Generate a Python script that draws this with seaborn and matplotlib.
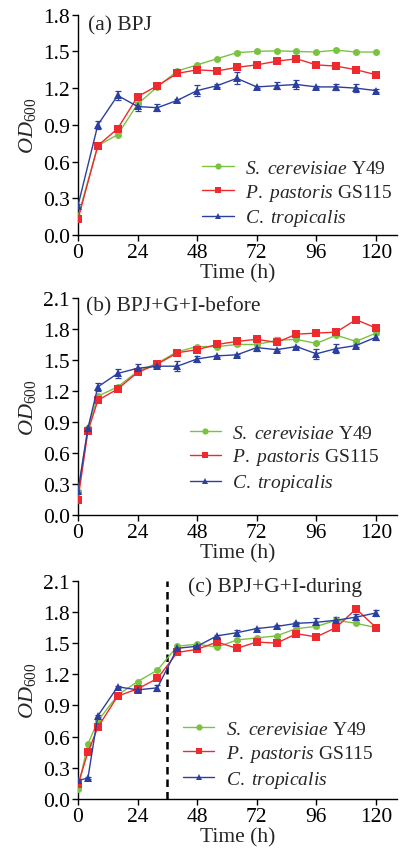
import numpy as np
import pandas as pd
import seaborn as sns
import matplotlib
matplotlib.use("Agg")
import matplotlib.pyplot as plt

# ---- data ----
time_a = [0, 8, 16, 24, 32, 40, 48, 56, 64, 72, 80, 88, 96, 104, 112, 120]
sc_a = [0.15, 0.73, 0.82, 1.07, 1.21, 1.34, 1.39, 1.44, 1.49, 1.50, 1.505, 1.50, 1.495, 1.51, 1.495, 1.495]
pp_a = [0.13, 0.73, 0.87, 1.13, 1.22, 1.32, 1.35, 1.34, 1.37, 1.39, 1.42, 1.44, 1.39, 1.38, 1.35, 1.31]
ct_a = [0.24, 0.90, 1.14, 1.05, 1.04, 1.10, 1.18, 1.22, 1.28, 1.21, 1.22, 1.23, 1.21, 1.21, 1.20, 1.18]
sc_a_err = [0.01, 0.01, 0.01, 0.01, 0.01, 0.01, 0.01, 0.01, 0.01, 0.01, 0.01, 0.01, 0.01, 0.01, 0.01, 0.01]
pp_a_err = [0.01, 0.01, 0.01, 0.01, 0.01, 0.01, 0.01, 0.01, 0.01, 0.01, 0.01, 0.02, 0.01, 0.01, 0.01, 0.01]
ct_a_err = [0.01, 0.03, 0.04, 0.04, 0.03, 0.01, 0.045, 0.01, 0.05, 0.01, 0.03, 0.04, 0.01, 0.025, 0.035, 0.01]

time_b = [0, 4, 8, 16, 24, 32, 40, 48, 56, 64, 72, 80, 88, 96, 104, 112, 120]
sc_b = [0.22, 0.84, 1.15, 1.24, 1.39, 1.47, 1.58, 1.63, 1.63, 1.65, 1.65, 1.69, 1.70, 1.66, 1.74, 1.68, 1.76]
pp_b = [0.15, 0.81, 1.11, 1.22, 1.38, 1.46, 1.57, 1.60, 1.65, 1.68, 1.70, 1.67, 1.75, 1.76, 1.77, 1.89, 1.81]
ct_b = [0.23, 0.84, 1.24, 1.37, 1.42, 1.44, 1.44, 1.51, 1.54, 1.55, 1.62, 1.60, 1.63, 1.56, 1.61, 1.64, 1.72]
sc_b_err = [0.01] * 11 + [0.03, 0.01, 0.01, 0.01, 0.01, 0.01]
pp_b_err = [0.01] * 17
ct_b_err = [0.01, 0.01, 0.04, 0.04, 0.04, 0.01, 0.05, 0.03, 0.01, 0.01, 0.03, 0.01, 0.01, 0.05, 0.04, 0.01, 0.03]

time_c = [0, 4, 8, 16, 24, 32, 40, 48, 56, 64, 72, 80, 88, 96, 104, 112, 120]
sc_c = [0.10, 0.53, 0.75, 1.00, 1.13, 1.24, 1.47, 1.49, 1.46, 1.53, 1.55, 1.57, 1.64, 1.66, 1.72, 1.69, 1.65]
pp_c = [0.14, 0.45, 0.69, 0.99, 1.06, 1.16, 1.41, 1.44, 1.51, 1.45, 1.51, 1.50, 1.59, 1.56, 1.65, 1.83, 1.65]
ct_c = [0.18, 0.20, 0.80, 1.08, 1.05, 1.07, 1.45, 1.47, 1.57, 1.60, 1.64, 1.66, 1.69, 1.70, 1.72, 1.75, 1.79]
sc_c_err = [0.01] * 17
pp_c_err = [0.01] * 17
ct_c_err = [0.01, 0.01, 0.01, 0.01, 0.01, 0.03, 0.01, 0.01, 0.01, 0.03, 0.01, 0.01, 0.01, 0.04, 0.03, 0.03, 0.03]

strains = [r"$\mathit{S.\ cerevisiae}$ Y49", r"$\mathit{P.\ pastoris}$ GS115", r"$\mathit{C.\ tropicalis}$"]
colors = ["#7cc242", "#ee2a2e", "#2b3f9e"]
markers = ["o", "s", "^"]
msizes = [5.0, 6.0, 5.5]

panels = [
    ("(a) BPJ", time_a, [sc_a, pp_a, ct_a], [sc_a_err, pp_a_err, ct_a_err], 1.8, None),
    ("(b) BPJ+G+I-before", time_b, [sc_b, pp_b, ct_b], [sc_b_err, pp_b_err, ct_b_err], 2.1, None),
    ("(c) BPJ+G+I-during", time_c, [sc_c, pp_c, ct_c], [sc_c_err, pp_c_err, ct_c_err], 2.1, 36),
]

sns.set_style("ticks")
plt.rcParams["font.family"] = ["Liberation Serif", "DejaVu Serif"]
plt.rcParams["mathtext.fontset"] = "custom"
plt.rcParams["mathtext.rm"] = "Liberation Serif"
plt.rcParams["mathtext.it"] = "Liberation Serif:italic"

fig = plt.figure(figsize=(4.03, 8.53), dpi=100)

# axes rectangles (left, bottom, width, height) in figure fraction
rects = [
    (0.1935, 0.7233, 0.7916, 0.2583),
    (0.1935, 0.3950, 0.7916, 0.2545),
    (0.1935, 0.0621, 0.7916, 0.2559),
]
# title anchor (x, y in axes frac, ha) and legend anchor
title_pos = [(0.03, 0.955, "left"), (0.025, 0.965, "left"), (0.345, 0.975, "left")]
legend_pos = [(0.39, 0.03), (0.35, 0.10), (0.33, 0.042)]

for (title, t, series, errs, ymax, vline), rect, tp, lp in zip(panels, rects, title_pos, legend_pos):
    ax = fig.add_axes(rect)
    for name, y, e, c, m, ms in zip(strains, series, errs, colors, markers, msizes):
        df = pd.DataFrame({"Time": t, "OD": y})
        ax.errorbar(t, y, yerr=e, fmt="none", ecolor=c, elinewidth=0.9, capsize=2.5, capthick=0.9, zorder=2)
        sns.lineplot(data=df, x="Time", y="OD", ax=ax, color=c, marker=m, markersize=ms,
                     markeredgewidth=0, linewidth=1.0, label=name, zorder=3)
    if vline is not None:
        ax.axvline(vline, ymin=0, ymax=1, color="black", linestyle=(0, (3, 2)), linewidth=1.8, zorder=1)

    ax.set_xlim(0, 128.5)
    ax.set_ylim(0, ymax)
    ax.set_xticks([0, 24, 48, 72, 96, 120])
    ax.set_yticks(np.arange(0, ymax + 0.01, 0.3))
    ax.set_yticklabels([f"{v:.1f}" for v in np.arange(0, ymax + 0.01, 0.3)])
    ax.tick_params(axis="both", labelsize=15.5, direction="out", length=4, width=1, pad=2, colors="black")
    for s in ["top", "right"]:
        ax.spines[s].set_visible(False)
    for s in ["left", "bottom"]:
        ax.spines[s].set_linewidth(1.0)
        ax.spines[s].set_color("black")
    ax.set_xlabel("Time (h)", fontsize=15.5, labelpad=0.5)
    ax.set_ylabel(r"$\mathit{OD}_{600}$", fontsize=16, labelpad=3)
    ax.text(tp[0], tp[1], title, transform=ax.transAxes, ha=tp[2], va="center", fontsize=15.5)

    leg = ax.legend(loc="lower left", bbox_to_anchor=lp, frameon=False, fontsize=14,
                    handlelength=1.6, handletextpad=0.6, labelspacing=0.25, borderaxespad=0, borderpad=0)
    for h in leg.legend_handles:
        h.set_markersize(4.5)

fig.savefig("out.png", dpi=100)
